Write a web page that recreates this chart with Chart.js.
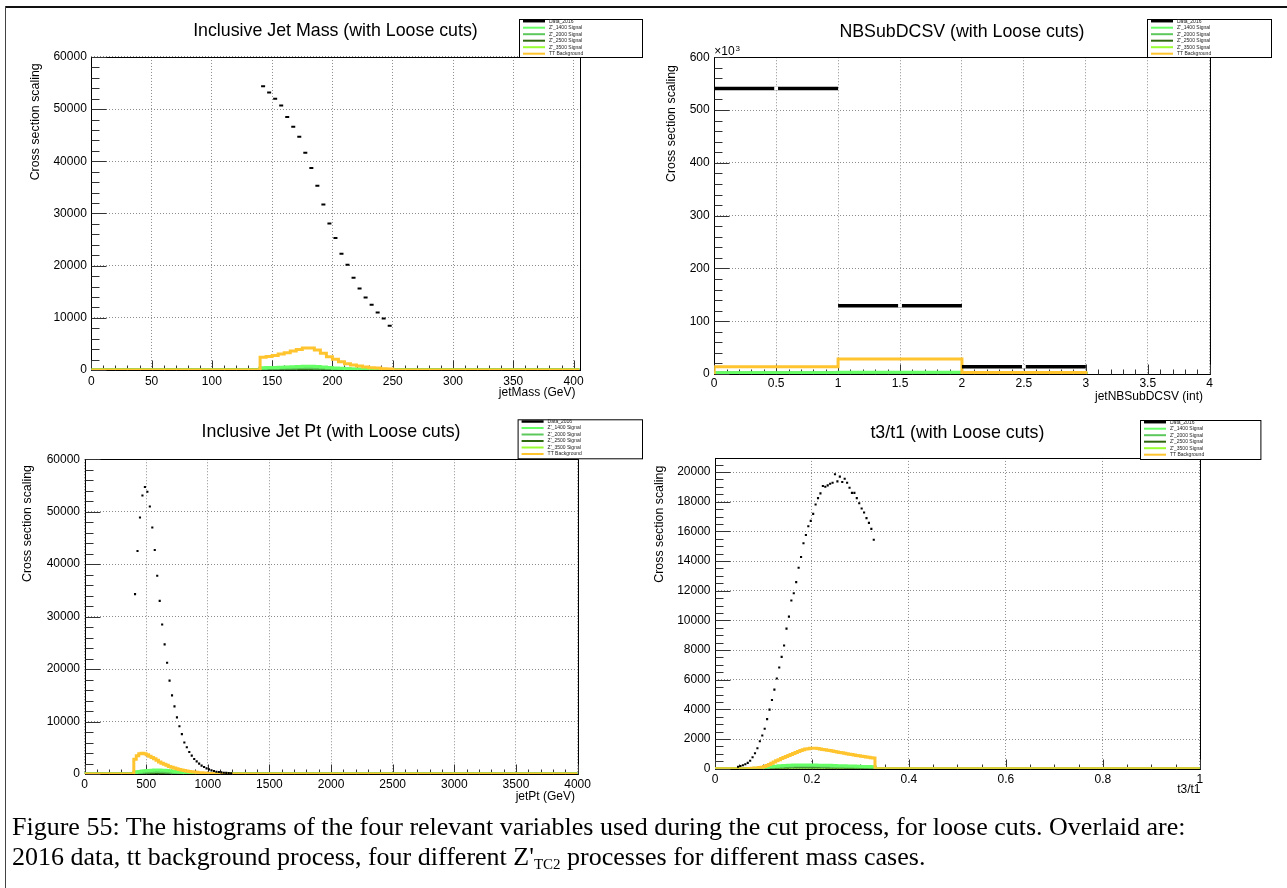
<!DOCTYPE html>
<html>
<head>
<meta charset="utf-8">
<script src="https://cdn.jsdelivr.net/npm/chart.js@4.4.1/dist/chart.umd.min.js"></script>
<style>
  html, body { margin: 0; padding: 0; background: #fff; }
  body { width: 1287px; height: 888px; position: relative; overflow: hidden; }
  canvas { position: absolute; }
  #frameTop { position: absolute; left: 5px; top: 6px; width: 1282px; height: 2px; background: #111; }
  #frameLeft { position: absolute; left: 5px; top: 6px; width: 1px; height: 882px; background: #444; }
  #caption { position: absolute; left: 12px; top: 812px; font-family: 'Liberation Serif', 'Times New Roman', serif;
             font-size: 26px; line-height: 30px; color: #000; white-space: nowrap; }
  #caption sub { font-size: 15px; vertical-align: -4px; line-height: 0; }
</style>
</head>
<body>
<div id="frameTop"></div>
<div id="frameLeft"></div>
<canvas id="cMass" width="645" height="400" style="left:0;top:0"></canvas>
<canvas id="cNB" width="647" height="406" style="left:640px;top:0"></canvas>
<canvas id="cPt" width="645" height="430" style="left:0;top:400px"></canvas>
<canvas id="cTau" width="647" height="430" style="left:640px;top:400px"></canvas>
<div id="caption">Figure 55: The histograms of the four relevant variables used during the cut process, for loose cuts. Overlaid are:<br>2016 data, tt background process, four different Z'<sub>TC2</sub> processes for different mass cases.</div>

<script>
// ---------------- series ----------------
const seriesLabels = ['Data_2016', "Z'_1400 Signal", "Z'_2000 Signal", "Z'_2500 Signal", "Z'_3500 Signal", 'TT Background'];
const seriesColors = ['#000000', '#66ff66', '#5cc85c', '#2f6a10', '#99ff33', '#ffc42e'];

// ---------------- jetMass (GeV) : 5 GeV bins from 140 ----------------
const massBinStart = 140;
const massBinWidth = 5;
const massData  = [54400, 53200, 52000, 50700, 48500, 46600, 44700, 41650, 38700, 35300, 31700,
                   28100, 25300, 22300, 20150, 17700, 15600, 13900, 12500, 11000, 9850, 8500];
const massTT    = [2430, 2600, 2800, 3050, 3300, 3650, 3950, 4200, 4200, 3850, 3200,
                   2550, 2050, 1600, 1200, 950, 770, 580, 450, 380, 250, 200];
const massZ1400 = [450, 480, 500, 520, 560, 620, 680, 720, 700, 650, 560, 480, 400, 320, 260, 200, 160, 120, 90, 70, 50, 40];
const massZ2000 = [300, 320, 340, 360, 380, 400, 420, 430, 420, 400, 360, 320, 280, 230, 190, 150, 120, 90, 70, 50, 40, 30];
const massZ2500 = [150, 160, 170, 180, 190, 200, 210, 215, 210, 200, 180, 160, 140, 115, 95, 75, 60, 45, 35, 25, 20, 15];
const massZ3500 = [80, 85, 90, 95, 100, 105, 110, 112, 110, 105, 95, 85, 75, 60, 50, 40, 30, 25, 18, 14, 10, 8];

// ---------------- NBSubDCSV : unit bins from 0 ----------------
const nbBinStart = 0;
const nbBinWidth = 1;
const nbData  = [541000, 129500, 13900];
const nbTT    = [13900, 28400, 3000];
const nbZ1400 = [2600, 3200, 1800];
const nbZ2000 = [1900, 2300, 1300];
const nbZ2500 = [1200, 1500, 900];
const nbZ3500 = [700, 900, 500];

// ---------------- jetPt (GeV) : 20 GeV bins from 400 ----------------
const ptBinStart = 400;
const ptBinWidth = 20;
const ptData  = [34300, 42500, 48900, 53100, 54700, 53800, 51000, 47000, 42700, 37800,
                 33000, 28500, 24700, 21200, 17800, 15000, 12900, 10800, 9100, 7600,
                 6000, 5100, 4200, 3500, 2860, 2400, 1970, 1600, 1330, 1080,
                 890, 700, 570, 440, 380, 320, 250, 220, 190, 150];
const ptTT    = [2800, 3500, 3850, 3950, 3850, 3650, 3400, 3150, 2900, 2600,
                 2300, 2050, 1850, 1650, 1450, 1280, 1120, 980, 860, 750,
                 660, 580, 500, 430, 370, 310, 260, 215, 175, 140,
                 110, 85, 65, 50, 35, 25];
const ptZ1400 = [300, 420, 500, 560, 610, 650, 690, 720, 740, 750, 745, 730, 700, 660, 610,
                 560, 500, 440, 380, 320, 270, 220, 180, 140, 110, 85, 65, 45, 30, 20];
const ptZ2000 = [180, 250, 300, 340, 370, 400, 420, 440, 455, 460, 455, 445, 425, 400, 370,
                 335, 300, 265, 230, 195, 160, 130, 105, 85, 65, 50, 38, 27, 18, 12];
const ptZ2500 = [100, 140, 170, 190, 210, 225, 240, 250, 258, 262, 258, 250, 240, 225, 208,
                 190, 170, 150, 130, 110, 90, 74, 60, 48, 37, 28, 21, 15, 10, 7];
const ptZ3500 = [50, 70, 85, 95, 105, 113, 120, 125, 128, 130, 128, 125, 120, 112, 104,
                 95, 85, 75, 65, 55, 45, 37, 30, 24, 18, 14, 10, 7, 5, 3];

// ---------------- t3/t1 ----------------
const tauDataStart = 0.045;
const tauTTStart = 0.07;
const tauBinWidth = 0.005;
const tauSigStart = 0.08;
const tauSigWidth = 0.01;
const tauData = [130, 180, 230, 300, 390, 540, 770, 1040, 1380, 1850,
                 2240, 2690, 3340, 3980, 4630, 5330, 6080, 6820, 7540, 8310,
                 9440, 10250, 11340, 11830, 12580, 13550, 14270, 15200, 15760, 16350,
                 16710, 17180, 17810, 18240, 18560, 19060, 19010, 19100, 19210, 19280,
                 19850, 19370, 19690, 19330, 19550, 19280, 18940, 18600, 18600, 18240,
                 17900, 17540, 17270, 16890, 16570, 16170, 15440];
const tauTT   = [10, 25, 40, 55, 75, 100, 140, 210, 290, 370,
                 450, 530, 610, 680, 750, 820, 890, 960, 1030, 1100,
                 1160, 1220, 1280, 1320, 1350, 1375, 1385, 1380, 1360, 1335,
                 1300, 1270, 1245, 1220, 1190, 1160, 1130, 1100, 1070, 1040,
                 1010, 980, 950, 925, 895, 870, 845, 820, 795, 770, 745, 715];
const tauZ1400 = [30, 60, 100, 140, 170, 200, 220, 235, 245, 250, 250, 248, 245, 240, 232, 225, 215, 205, 195, 185, 175, 165, 155, 145, 135];
const tauZ2000 = [20, 40, 70, 100, 125, 145, 160, 170, 178, 182, 182, 180, 178, 174, 168, 162, 155, 148, 140, 133, 126, 118, 111, 104, 97];
const tauZ2500 = [12, 25, 45, 65, 80, 95, 105, 112, 117, 120, 120, 118, 116, 113, 109, 105, 100, 96, 91, 86, 81, 76, 71, 67, 62];
const tauZ3500 = [6, 12, 22, 32, 40, 47, 52, 56, 58, 60, 60, 59, 58, 56, 54, 52, 50, 48, 45, 43, 40, 38, 35, 33, 31];

// ---------------- helpers ----------------
const FONT = "'Liberation Sans', Arial, Helvetica, sans-serif";
Chart.defaults.font.family = FONT;
Chart.defaults.color = '#000';

// histogram outline: zero line from xmin, bins as steps, back to zero and on to xmax
function stepOutline(start, width, values, xmin, xmax) {
  const pts = [{x: xmin, y: 0}];
  values.forEach((v, i) => pts.push({x: start + i * width, y: v}));
  pts.push({x: start + values.length * width, y: 0});
  pts.push({x: xmax, y: 0});
  return pts;
}
function binCentres(start, width, values) {
  return values.map((v, i) => ({x: start + (i + 0.5) * width, y: v}));
}
function histSet(idx, pts, order) {
  return {label: seriesLabels[idx], legendIndex: idx, data: pts, borderColor: seriesColors[idx],
          backgroundColor: seriesColors[idx], borderWidth: 3, stepped: true, pointRadius: 0,
          pointHoverRadius: 0, fill: false, order: order, borderJoinStyle: 'miter', borderCapStyle: 'butt'};
}
function signalSets(start, width, lists, xmin, xmax) {
  return lists.map((vals, k) => histSet(k + 1, stepOutline(start, width, vals, xmin, xmax), 2 + k));
}
function markerSet(pts, style) {
  return Object.assign({label: seriesLabels[0], legendIndex: 0, data: pts, showLine: false, order: 0,
                        borderColor: '#000', backgroundColor: '#000', pointHoverRadius: 0}, style);
}
const fmt = v => String(+Number(v).toFixed(4));

// major ticks at every multiple of the step inside [min, max]
function fixedTicks(step) {
  return scale => {
    const out = [];
    const n = Math.floor((scale.max - scale.min) / step + 1e-9);
    for (let i = 0; i <= n; i++) out.push({value: +(scale.min + i * step).toFixed(6)});
    scale.ticks = out;
  };
}

// ---------------- plugins ----------------
function isMultiple(v, step) {
  const r = v / step;
  return Math.abs(r - Math.round(r)) < 1e-6;
}
const rootFrame = {
  id: 'rootFrame',
  beforeDatasetsDraw(chart, args, o) {
    const {ctx, chartArea: a} = chart;
    const xs = chart.scales.x, ys = chart.scales.y;
    const L = Math.round(a.left) + 0.5, R = Math.round(a.right) + 0.5;
    const T = Math.round(a.top) + 0.5, B = Math.round(a.bottom) + 0.5;
    ctx.save();
    ctx.strokeStyle = '#000';
    ctx.lineWidth = 1;
    ctx.strokeRect(L, T, R - L, B - T);
    ctx.strokeStyle = '#333';
    ctx.beginPath();
    const nx = Math.round((xs.max - xs.min) / o.xMinorStep);
    for (let i = 0; i <= nx; i++) {
      const v = xs.min + i * o.xMinorStep;
      if (v > xs.max + 1e-9) break;
      const len = isMultiple(v, xs.options.ticks.stepSize) ? o.xTick[0] : o.xTick[1];
      const px = Math.round(xs.getPixelForValue(v)) + 0.5;
      ctx.moveTo(px, B); ctx.lineTo(px, B - len);
    }
    const ny = Math.round((ys.max - ys.min) / o.yMinorStep);
    for (let i = 0; i <= ny; i++) {
      const v = ys.min + i * o.yMinorStep;
      if (v > ys.max + 1e-9) break;
      const len = isMultiple(v, ys.options.ticks.stepSize) ? o.yTick[0] : o.yTick[1];
      const py = Math.round(ys.getPixelForValue(v)) + 0.5;
      ctx.moveTo(L, py); ctx.lineTo(L + len, py);
    }
    ctx.stroke();
    ctx.restore();
  }
};

const rootLegend = {
  id: 'rootLegend',
  afterDraw(chart, args, o) {
    const ctx = chart.ctx;
    ctx.save();
    ctx.fillStyle = '#fff';
    ctx.fillRect(o.x, o.y, o.w, o.h);
    ctx.strokeStyle = '#000';
    ctx.lineWidth = 1;
    ctx.strokeRect(o.x + 0.5, o.y + 0.5, o.w, o.h);
    const entries = [];
    chart.data.datasets.forEach(d => {
      if (d.legendIndex !== undefined && !entries[d.legendIndex]) {
        entries[d.legendIndex] = {label: d.label, color: seriesColors[d.legendIndex]};
      }
    });
    ctx.font = '5px ' + FONT;
    ctx.textBaseline = 'middle';
    entries.forEach((e, i) => {
      const yy = o.y + 2.2 + i * 6.5;
      ctx.strokeStyle = e.color;
      ctx.lineWidth = i === 0 ? 2.5 : 2;
      ctx.beginPath();
      ctx.moveTo(o.x + 4, yy); ctx.lineTo(o.x + 26, yy);
      ctx.stroke();
      ctx.fillStyle = '#222';
      ctx.fillText(e.label, o.x + 30, yy);
    });
    ctx.restore();
  }
};

const axisTitles = {
  id: 'axisTitles',
  afterDraw(chart, args, o) {
    const ctx = chart.ctx;
    ctx.save();
    ctx.fillStyle = '#000';
    ctx.font = '12px ' + FONT;
    ctx.textAlign = 'right';
    ctx.textBaseline = 'middle';
    ctx.fillText(o.xText, o.xRight, o.xMid);
    ctx.font = '12.4px ' + FONT;
    ctx.translate(o.yMid, o.yTop);
    ctx.rotate(-Math.PI / 2);
    ctx.fillText(o.yText, 0, 0);
    ctx.restore();
    if (o.exponent) {
      const a = chart.chartArea;
      ctx.save();
      ctx.fillStyle = '#000';
      ctx.textBaseline = 'alphabetic';
      ctx.textAlign = 'left';
      ctx.font = '12px ' + FONT;
      ctx.fillText('\u00d710', a.left, a.top - 2);
      const w = ctx.measureText('\u00d710').width;
      ctx.font = '8px ' + FONT;
      ctx.fillText(o.exponent, a.left + w + 1, a.top - 6);
      ctx.restore();
    }
  }
};

// ---------------- panel builder ----------------
function makePanel(id, p) {
  const gridOpts = {color: '#8c8c8c', lineWidth: 1, drawTicks: false};
  const borderOpts = {display: false, dash: [1, 2]};
  return new Chart(document.getElementById(id), {
    type: 'line',
    data: {datasets: p.datasets},
    options: {
      responsive: false,
      animation: false,
      devicePixelRatio: 1,
      events: [],
      layout: {padding: {left: 0, top: 0, right: p.padRight, bottom: p.padBottom}},
      plugins: {
        legend: {display: false},
        tooltip: {enabled: false},
        title: {display: true, text: p.title, fullSize: false, color: '#000',
                font: {size: 17.8, weight: 'normal'},
                padding: {top: p.titleTop, bottom: p.titleBottom}},
        rootFrame: p.frame,
        rootLegend: p.legend,
        axisTitles: p.axisTitles
      },
      scales: {
        x: {
          type: 'linear', position: 'bottom', min: p.xMin, max: p.xMax,
          afterFit: s => { s.height = 30; },
          afterBuildTicks: fixedTicks(p.xStep),
          ticks: {stepSize: p.xStep, includeBounds: false, autoSkip: false, maxRotation: 0, minRotation: 0,
                  padding: p.xLabelPad, font: {size: 12}, color: '#000', callback: p.xFmt || fmt},
          grid: gridOpts, border: borderOpts
        },
        y: {
          type: 'linear', position: 'left', min: 0, max: p.yMax,
          afterFit: s => { s.width = p.yWidth; },
          afterBuildTicks: fixedTicks(p.yStep),
          ticks: {stepSize: p.yStep, includeBounds: false, autoSkip: false, padding: 4.5,
                  font: {size: 12}, color: '#000', callback: p.yFmt || fmt},
          grid: gridOpts, border: borderOpts
        }
      }
    },
    plugins: [rootFrame, rootLegend, axisTitles]
  });
}

// ---------------- Inclusive Jet Mass ----------------
makePanel('cMass', {
  title: 'Inclusive Jet Mass (with Loose cuts)',
  titleTop: 20.7, titleBottom: 14.9,
  padRight: 65.4, padBottom: 0, yWidth: 91.3, xLabelPad: 4,
  xMin: 0, xMax: 405, xStep: 50, yMax: 60000, yStep: 10000,
  frame: {xMinorStep: 10, yMinorStep: 2000, xTick: [10, 5], yTick: [15, 8]},
  legend: {x: 519, y: 19, w: 123, h: 38},
  axisTitles: {xText: 'jetMass (GeV)', xRight: 575.5, xMid: 393, yText: 'Cross section scaling', yMid: 35.5, yTop: 63.3},
  datasets: [
    markerSet(binCentres(massBinStart, massBinWidth, massData),
              {pointStyle: 'line', pointRadius: 2, pointBorderWidth: 2, pointBorderColor: '#000'}),
    histSet(5, stepOutline(massBinStart, massBinWidth, massTT, 0, 405), 1),
    ...signalSets(massBinStart, massBinWidth, [massZ1400, massZ2000, massZ2500, massZ3500], 0, 405)
  ]
});

// ---------------- NBSubDCSV ----------------
function barSegments(start, width, values) {
  const pts = [];
  values.forEach((v, i) => {
    pts.push({x: start + i * width, y: v});
    pts.push({x: start + (i + 1) * width, y: v});
    pts.push({x: start + (i + 1) * width, y: null});
  });
  return pts;
}
makePanel('cNB', {
  title: 'NBSubDCSV (with Loose cuts)',
  titleTop: 21.3, titleBottom: 14.6,
  padRight: 77.3, padBottom: 2, yWidth: 74.2, xLabelPad: 2.5,
  xMin: 0, xMax: 4, xStep: 0.5, yMax: 600000, yStep: 100000,
  yFmt: v => String(Math.round(v / 1000)),
  frame: {xMinorStep: 0.1, yMinorStep: 20000, xTick: [10, 5], yTick: [15, 8]},
  legend: {x: 507, y: 19, w: 124, h: 38},
  axisTitles: {xText: 'jetNBSubDCSV (int)', xRight: 563, xMid: 396.7, yText: 'Cross section scaling', yMid: 31.3, yTop: 65, exponent: '3'},
  datasets: [
    markerSet(binCentres(nbBinStart, nbBinWidth, nbData),
              {pointStyle: 'rect', pointRadius: 1.3, pointBackgroundColor: '#000', pointBorderColor: '#fff', pointBorderWidth: 2}),
    {label: seriesLabels[0], data: barSegments(nbBinStart, nbBinWidth, nbData), borderColor: '#000', borderWidth: 3.5,
     pointRadius: 0, pointHoverRadius: 0, spanGaps: false, fill: false, order: 0.5, borderCapStyle: 'butt'},
    histSet(5, stepOutline(nbBinStart, nbBinWidth, nbTT, 0, 3), 1),
    ...signalSets(nbBinStart, nbBinWidth, [nbZ1400, nbZ2000, nbZ2500, nbZ3500], 0, 3)
  ]
});

// ---------------- Inclusive Jet Pt ----------------
makePanel('cPt', {
  title: 'Inclusive Jet Pt (with Loose cuts)',
  titleTop: 21.7, titleBottom: 16.2,
  padRight: 67.4, padBottom: 26, yWidth: 84.5, xLabelPad: 3.5,
  xMin: 0, xMax: 4000, xStep: 500, yMax: 60000, yStep: 10000,
  frame: {xMinorStep: 100, yMinorStep: 2000, xTick: [10, 5], yTick: [15, 8]},
  legend: {x: 517.6, y: 19.3, w: 124.4, h: 39},
  axisTitles: {xText: 'jetPt (GeV)', xRight: 575, xMid: 396.7, yText: 'Cross section scaling', yMid: 27.6, yTop: 65},
  datasets: [
    markerSet(binCentres(ptBinStart, ptBinWidth, ptData),
              {pointStyle: 'rect', pointRadius: 1.5, pointBorderWidth: 0, pointBackgroundColor: '#000'}),
    histSet(5, stepOutline(ptBinStart, ptBinWidth, ptTT, 0, 4000), 1),
    ...signalSets(ptBinStart, ptBinWidth, [ptZ1400, ptZ2000, ptZ2500, ptZ3500], 0, 4000)
  ]
});

// ---------------- t3/t1 ----------------
makePanel('cTau', {
  title: 't3/t1 (with Loose cuts)',
  titleTop: 22.3, titleBottom: 14.3,
  padRight: 87.2, padBottom: 31.3, yWidth: 75, xLabelPad: 3.5,
  xMin: 0, xMax: 1, xStep: 0.2, yMax: 20950, yStep: 2000,
  frame: {xMinorStep: 0.05, yMinorStep: 500, xTick: [10, 5], yTick: [15, 8]},
  legend: {x: 500, y: 20, w: 120.4, h: 39},
  axisTitles: {xText: 't3/t1', xRight: 560.5, xMid: 390, yText: 'Cross section scaling', yMid: 19.5, yTop: 65.7},
  datasets: [
    markerSet(binCentres(tauDataStart, tauBinWidth, tauData),
              {pointStyle: 'rect', pointRadius: 1.5, pointBorderWidth: 0, pointBackgroundColor: '#000'}),
    histSet(5, stepOutline(tauTTStart, tauBinWidth, tauTT, 0, 1), 1),
    ...signalSets(tauSigStart, tauSigWidth, [tauZ1400, tauZ2000, tauZ2500, tauZ3500], 0, 1)
  ]
});
</script>
</body>
</html>
